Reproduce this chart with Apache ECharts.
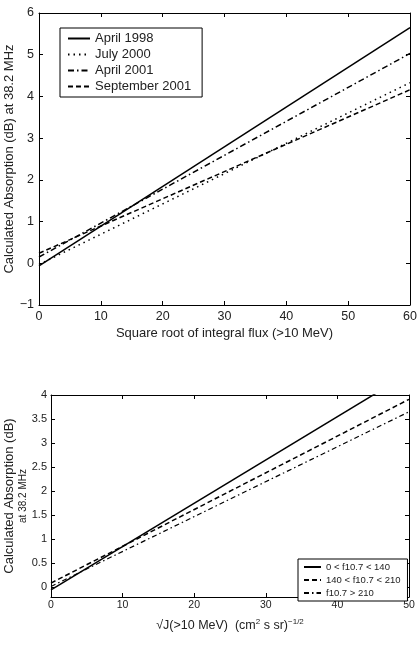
<!DOCTYPE html>
<html>
<head>
<meta charset="utf-8">
<script src="https://cdn.jsdelivr.net/npm/echarts@6/dist/echarts.min.js"></script>
<style>
html, body { margin: 0; padding: 0; background: #fff; }
#chart { width: 418px; height: 647px; }
</style>
</head>
<body>
<div id="chart"></div>
<script>
// top panel: absorption vs sqrt of integral flux, by event
const topX = [0, 60];
const april1998 = [-0.06, 5.65];
const july2000 = [-0.03, 4.33];
const april2001 = [0.15, 5.03];
const sept2001 = [0.24, 4.16];
const topYTicks = [-1, 0, 1, 2, 3, 4, 5, 6];

// bottom panel: absorption vs sqrt(J), by f10.7 range
const botX = [0, 50];
const lowF = [-0.05, 4.45];
const midF = [0.09, 3.91];
const highF = [0.02, 3.65];
const botYTicks = [0, 0.5, 1, 1.5, 2, 2.5, 3, 3.5, 4];

const FONT = 'Liberation Sans, Arial, sans-serif';
const INK = '#222';

function pairs(xs, ys) {
  return xs.map((x, i) => [x, ys[i]]);
}

function frameAxis(pos, grid, extra) {
  return Object.assign({
    type: 'value',
    gridIndex: grid,
    position: pos,
    axisLine: { show: true, onZero: false, lineStyle: { color: '#000', width: 1 } },
    axisTick: { show: true, inside: true, length: 4, lineStyle: { color: '#000' } },
    axisLabel: { show: false },
    splitLine: { show: false }
  }, extra);
}

const chart = echarts.init(document.getElementById('chart'));

const option = {
  animation: false,
  backgroundColor: '#fff',
  textStyle: { fontFamily: FONT },
  grid: [
    { left: 39, top: 13, width: 371, height: 292, outerBoundsMode: 'none', containLabel: false },
    { left: 51, top: 395, width: 358, height: 202, outerBoundsMode: 'none', containLabel: false }
  ],
  xAxis: [
    frameAxis('bottom', 0, {
      min: 0, max: 60, interval: 10,
      axisLabel: { show: true, color: INK, fontSize: 12.5, margin: 5, fontFamily: FONT },
      name: 'Square root of integral flux (>10 MeV)',
      nameLocation: 'middle', nameGap: 22,
      nameTextStyle: { color: INK, fontSize: 13, fontFamily: FONT }
    }),
    frameAxis('top', 0, { min: 0, max: 60, interval: 10 }),
    frameAxis('bottom', 1, {
      min: 0, max: 50, interval: 10,
      axisLabel: { show: true, color: INK, fontSize: 10.5, margin: 3, fontFamily: FONT },
      name: '√J(>10 MeV)  (cm{sup|2} s sr){sup|−1/2}',
      nameLocation: 'middle', nameGap: 21,
      nameTextStyle: {
        color: INK, fontSize: 12.5, fontFamily: FONT,
        rich: { sup: { fontSize: 8, color: INK, fontFamily: FONT, verticalAlign: 'top', padding: [0, 0, 8, 0] } }
      }
    }),
    frameAxis('top', 1, { min: 0, max: 50, interval: 10 })
  ],
  yAxis: [
    frameAxis('left', 0, {
      min: -1, max: 6, interval: 1,
      axisLabel: {
        show: true, color: INK, fontSize: 12.5, margin: 5, fontFamily: FONT,
        formatter: v => String(v).replace('-', '−')
      },
      name: 'Calculated Absorption (dB) at 38.2 MHz',
      nameLocation: 'middle', nameGap: 23, nameMoveOverlap: false,
      nameTextStyle: { color: INK, fontSize: 13, fontFamily: FONT }
    }),
    frameAxis('right', 0, { min: -1, max: 6, interval: 1 }),
    frameAxis('left', 1, {
      min: -0.2, max: 4,
      axisTick: { show: true, inside: true, length: 4, lineStyle: { color: '#000' }, customValues: botYTicks },
      axisLabel: { show: true, color: INK, fontSize: 11, margin: 4, fontFamily: FONT, customValues: botYTicks },
      name: '{a|Calculated Absorption (dB)}\n{b|at 38.2 MHz}',
      nameLocation: 'middle', nameGap: 21, nameMoveOverlap: false,
      nameTextStyle: {
        color: INK, fontFamily: FONT,
        rich: {
          a: { fontSize: 13, color: INK, fontFamily: FONT, lineHeight: 16 },
          b: { fontSize: 10, color: INK, fontFamily: FONT, lineHeight: 13 }
        }
      }
    }),
    frameAxis('right', 1, {
      min: -0.2, max: 4,
      axisTick: { show: true, inside: true, length: 4, lineStyle: { color: '#000' }, customValues: botYTicks }
    })
  ],
  legend: [
    {
      data: ['April 1998', 'July 2000', 'April 2001', 'September 2001'],
      orient: 'vertical', left: 60, top: 28,
      padding: [4, 11, 4, 7],
      itemWidth: 22, itemHeight: 12, itemGap: 3,
      itemStyle: { opacity: 0 },
      borderColor: '#000', borderWidth: 1, borderRadius: 0,
      backgroundColor: '#fff',
      textStyle: { color: INK, fontSize: 13, fontFamily: FONT }
    },
    {
      data: ['0 < f10.7 < 140', '140 < f10.7 < 210', 'f10.7 > 210'],
      orient: 'vertical', left: 298, top: 559,
      padding: [3, 7, 3, 5],
      itemWidth: 17, itemHeight: 9, itemGap: 3,
      itemStyle: { opacity: 0 },
      borderColor: '#000', borderWidth: 1, borderRadius: 0,
      backgroundColor: '#fff',
      textStyle: { color: INK, fontSize: 9.5, fontFamily: FONT }
    }
  ],
  series: [
    { name: 'April 1998', data: pairs(topX, april1998), xAxisIndex: 0, yAxisIndex: 0,
      lineStyle: { type: 'solid', width: 1.5 } },
    { name: 'July 2000', data: pairs(topX, july2000), xAxisIndex: 0, yAxisIndex: 0,
      lineStyle: { type: [1.5, 4], width: 1.5 } },
    { name: 'April 2001', data: pairs(topX, april2001), xAxisIndex: 0, yAxisIndex: 0,
      lineStyle: { type: [6, 3, 1.5, 3], width: 1.5 } },
    { name: 'September 2001', data: pairs(topX, sept2001), xAxisIndex: 0, yAxisIndex: 0,
      lineStyle: { type: [5, 3], width: 1.5 } },
    { name: '0 < f10.7 < 140', data: pairs(botX, lowF), xAxisIndex: 2, yAxisIndex: 2,
      lineStyle: { type: 'solid', width: 1.5 } },
    { name: '140 < f10.7 < 210', data: pairs(botX, midF), xAxisIndex: 2, yAxisIndex: 2,
      lineStyle: { type: [5, 3], width: 1.5 } },
    { name: 'f10.7 > 210', data: pairs(botX, highF), xAxisIndex: 2, yAxisIndex: 2,
      lineStyle: { type: [5, 3, 1.5, 3], width: 1.2 } }
  ].map(s => Object.assign({
    type: 'line',
    symbol: 'none',
    showSymbol: false,
    clip: true,
    color: '#000',
    silent: true
  }, s, { lineStyle: Object.assign({ color: '#000' }, s.lineStyle) }))
};

chart.setOption(option);
</script>
</body>
</html>
